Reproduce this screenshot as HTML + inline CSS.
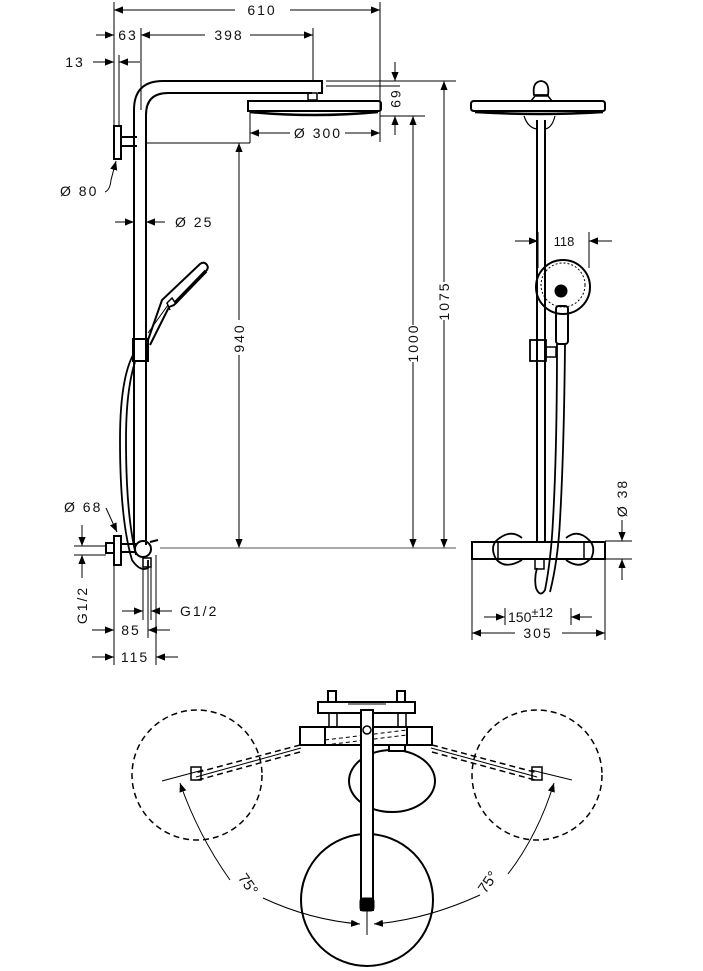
<!DOCTYPE html>
<html><head><meta charset="utf-8"><style>
html,body{margin:0;padding:0;background:#fff}
svg{display:block}
text{font-family:"Liberation Sans",sans-serif;font-size:14px;fill:#111;letter-spacing:2px}
</style></head><body>
<svg width="703" height="971" viewBox="0 0 703 971" xmlns="http://www.w3.org/2000/svg">
<defs>
<marker id="a" viewBox="0 0 10 10" refX="10" refY="5" markerWidth="9" markerHeight="9" orient="auto-start-reverse" markerUnits="userSpaceOnUse"><path d="M0,1 L10,5 L0,9z" fill="#000"/></marker>
</defs>
<g stroke="#000" fill="none" stroke-width="1">
<line x1="114" y1="2" x2="114" y2="130"/>
<line x1="380" y1="2" x2="380" y2="142"/>
<line x1="141" y1="28" x2="141" y2="110"/>
<line x1="313" y1="28" x2="313" y2="80"/>
<line x1="119" y1="55" x2="119" y2="126"/>
<line x1="114" y1="10" x2="235" y2="10" marker-start="url(#a)"/>
<line x1="290" y1="10" x2="380" y2="10" marker-end="url(#a)"/>
<line x1="96" y1="35" x2="114" y2="35" marker-end="url(#a)"/>
<line x1="141" y1="35" x2="205" y2="35" marker-start="url(#a)"/>
<line x1="250" y1="35" x2="313" y2="35" marker-end="url(#a)"/>
<line x1="93" y1="62" x2="114" y2="62" marker-end="url(#a)"/>
<line x1="119" y1="62" x2="140" y2="62" marker-start="url(#a)"/>
<path d="M134 545 V110 Q134 81 163 81 H322 V93 H318" stroke-width="2"/>
<path d="M146 545 V115 Q146 93 168 93 H312" stroke-width="2"/>
<rect x="308" y="93" width="9" height="7" stroke-width="1.5"/>
<path d="M248 101 H378 Q381 101 381 104 V109 Q381 111 378 111 H248 Z" stroke-width="2"/>
<path d="M250 112 Q315 118 378 112" stroke-width="2.5"/>
<rect x="114" y="126" width="7" height="33" stroke-width="2"/>
<path d="M121 137 H137 M121 146 H137" stroke-width="2"/>
<line x1="146" y1="143" x2="250" y2="143"/>
<line x1="250" y1="112" x2="250" y2="143"/>
<line x1="250" y1="133" x2="290" y2="133" marker-start="url(#a)"/>
<line x1="345" y1="133" x2="380" y2="133" marker-end="url(#a)"/>
<line x1="326" y1="81" x2="456" y2="81"/>
<line x1="326" y1="86" x2="400" y2="86"/>
<line x1="380" y1="116" x2="425" y2="116"/>
<line x1="395" y1="62" x2="395" y2="81" marker-end="url(#a)"/>
<line x1="395" y1="135" x2="395" y2="116" marker-end="url(#a)"/>
<line x1="239" y1="143" x2="239" y2="320" marker-start="url(#a)"/>
<line x1="239" y1="355" x2="239" y2="548" marker-end="url(#a)"/>
<line x1="413" y1="116" x2="413" y2="325" marker-start="url(#a)"/>
<line x1="413" y1="362" x2="413" y2="548" marker-end="url(#a)"/>
<line x1="444" y1="81" x2="444" y2="282" marker-start="url(#a)"/>
<line x1="444" y1="320" x2="444" y2="548" marker-end="url(#a)"/>
<line x1="160" y1="548" x2="456" y2="548" stroke="#555"/>
<path d="M105 192 Q110 190 111 180 L116 161" marker-end="url(#a)"/>
<line x1="115" y1="222" x2="134" y2="222" marker-end="url(#a)"/>
<line x1="165" y1="222" x2="146" y2="222" marker-end="url(#a)"/>
<!-- handshower -->
<rect x="133" y="339" width="15" height="22" stroke-width="2"/>
<path d="M148 340 L162 300 L200 264 Q204 261 207 265 Q209 268 206 271 L174 305 L169 307 L150 345" stroke-width="2"/>
<path d="M148 333 L168 305" />
<path d="M170 310 L167 303 L172 298 L176 304" stroke-width="1.5"/>
<path d="M175 303 L206 271" stroke-width="3.5"/>
<path d="M133 355 Q120 380 120 440 Q120 520 132 560 Q140 572 148 568 V560" stroke-width="1.8"/>
<path d="M135 362 Q126 390 126 440 Q126 515 136 555" stroke-width="1.8"/>
<rect x="106" y="543" width="8" height="10" stroke-width="2"/>
<rect x="114" y="536" width="7" height="29" stroke-width="2"/>
<path d="M121 544 H136 M121 552 H136" stroke-width="2"/>
<circle cx="143" cy="549" r="8" stroke-width="2"/>
<rect x="143" y="558" width="8" height="9" stroke-width="1.5"/>
<line x1="150" y1="542" x2="158" y2="540" stroke-width="2"/>
<path d="M106 508 L117 532" marker-end="url(#a)"/>
<line x1="74" y1="546" x2="106" y2="546"/>
<line x1="74" y1="555" x2="106" y2="555"/>
<line x1="82" y1="525" x2="82" y2="546" marker-end="url(#a)"/>
<line x1="82" y1="578" x2="82" y2="555" marker-end="url(#a)"/>
<line x1="114" y1="565" x2="114" y2="665"/>
<line x1="143" y1="567" x2="143" y2="620"/>
<line x1="148" y1="567" x2="148" y2="638"/>
<line x1="151" y1="567" x2="151" y2="620"/>
<line x1="156" y1="555" x2="156" y2="665"/>
<line x1="122" y1="611" x2="143" y2="611" marker-end="url(#a)"/>
<line x1="172" y1="611" x2="151" y2="611" marker-end="url(#a)"/>
<line x1="92" y1="630" x2="114" y2="630" marker-end="url(#a)"/>
<line x1="170" y1="630" x2="148" y2="630" marker-end="url(#a)"/>
<line x1="92" y1="657" x2="114" y2="657" marker-end="url(#a)"/>
<line x1="178" y1="657" x2="156" y2="657" marker-end="url(#a)"/>

<!-- RIGHT VIEW -->
<path d="M534 95 Q532 82 541 81 Q550 82 548 95 Z" stroke-width="1.8"/>
<path d="M531 101 L535 96 H548 L552 101" stroke-width="1.5"/>
<path d="M474 101 H602 Q605 101 605 104 V109 Q605 111 602 111 H474 Q471 111 471 108 V104 Q471 101 474 101Z" stroke-width="2"/>
<path d="M475 112 Q540 116 603 112" stroke-width="2.5"/>
<path d="M524 116 Q528 128 537 129 M555 116 Q552 128 545 129" stroke-width="1.2"/>
<line x1="537" y1="120" x2="537" y2="543" stroke-width="2"/>
<line x1="545" y1="120" x2="545" y2="543" stroke-width="2"/>
<line x1="538" y1="232" x2="538" y2="268"/>
<line x1="589" y1="232" x2="589" y2="268"/>
<line x1="515" y1="241" x2="538" y2="241" marker-end="url(#a)"/>
<line x1="612" y1="241" x2="589" y2="241" marker-end="url(#a)"/>
<circle cx="563" cy="287" r="27" stroke-width="2"/>
<circle cx="563" cy="285" r="22" stroke-width="1" stroke-dasharray="2 2"/>
<circle cx="561" cy="291" r="6" fill="#000"/>
<rect x="556" y="306" width="12" height="38" rx="3" stroke-width="2"/>
<rect x="530" y="340" width="16" height="21" stroke-width="1.8"/>
<rect x="546" y="347" width="10" height="10" stroke-width="1.5"/>
<path d="M557 344 Q557 450 553 520 Q551 560 545 590 Q540 598 536 588 Q534 578 537 568" stroke-width="1.8"/>
<path d="M565 344 Q564 450 560 520 Q558 560 550 592" stroke-width="1.8"/>
<rect x="535" y="559" width="9" height="10" stroke-width="1.5"/>
<rect x="472" y="542" width="133" height="17" stroke-width="2"/>
<path d="M496 559 Q490 548 496 541 Q510 528 522 538 M496 559 Q505 570 522 560" stroke-width="1.8"/>
<path d="M591 559 Q596 548 590 541 Q578 528 566 538 M590 559 Q580 570 566 560" stroke-width="1.8"/>
<rect x="498" y="542" width="86" height="17" stroke-width="1.5"/>
<line x1="605" y1="541" x2="632" y2="541"/>
<line x1="605" y1="559" x2="632" y2="559"/>
<line x1="622" y1="520" x2="622" y2="541" marker-end="url(#a)"/>
<line x1="622" y1="580" x2="622" y2="559" marker-end="url(#a)"/>
<line x1="472" y1="559" x2="472" y2="640"/>
<line x1="605" y1="559" x2="605" y2="640"/>
<line x1="505" y1="608" x2="505" y2="625"/>
<line x1="571" y1="608" x2="571" y2="625"/>
<line x1="484" y1="617" x2="505" y2="617" marker-end="url(#a)"/>
<line x1="592" y1="617" x2="571" y2="617" marker-end="url(#a)"/>
<line x1="472" y1="633" x2="515" y2="633" marker-start="url(#a)"/>
<line x1="562" y1="633" x2="605" y2="633" marker-end="url(#a)"/>

<!-- BOTTOM VIEW -->
<g stroke-width="1.5" stroke-dasharray="6 4">
<circle cx="197" cy="775" r="65"/>
<circle cx="537" cy="775" r="65"/>
<path d="M300 745 L195 773 M300 752 L198 780"/>
<path d="M432 745 L538 773 M432 752 L535 780"/>
</g>
<path d="M301 748 L196 777 M431 748 L537 777" stroke-width="1"/>
<rect x="191" y="767" width="10" height="13" stroke-width="1.5"/>
<rect x="532" y="767" width="10" height="13" stroke-width="1.5"/>
<circle cx="367" cy="900" r="66" stroke-width="2"/>
<ellipse cx="392" cy="781" rx="43" ry="31" stroke-width="2" fill="#fff"/>
<rect x="389" y="733" width="16" height="18" fill="#fff" stroke-width="2"/>
<rect x="300" y="727" width="132" height="18" fill="#fff" stroke-width="2"/>
<rect x="300" y="727" width="25" height="18" stroke-width="2"/>
<rect x="407" y="727" width="25" height="18" stroke-width="2"/>
<path d="M325 740 L407 730 M325 745 L407 735" stroke-width="1" stroke-dasharray="4 3"/>
<rect x="318" y="702" width="97" height="11" fill="#fff" stroke-width="2"/>
<line x1="348" y1="704" x2="386" y2="704"/>
<rect x="328" y="691" width="8" height="11" stroke-width="2"/>
<rect x="397" y="691" width="8" height="11" stroke-width="2"/>
<rect x="329" y="713" width="8" height="14" stroke-width="1.5"/>
<rect x="398" y="713" width="8" height="14" stroke-width="1.5"/>
<rect x="361" y="710" width="12" height="200" fill="#fff" stroke-width="2"/>
<circle cx="367" cy="730" r="4" stroke-width="1.5"/>
<rect x="360" y="898" width="14" height="13" rx="3" fill="#000"/>
<line x1="367" y1="910" x2="367" y2="935"/>
<line x1="162" y1="781" x2="203" y2="770"/>
<line x1="572" y1="780" x2="531" y2="770"/>
<path d="M230 880 Q198 835 180 783" marker-end="url(#a)"/>
<path d="M263 898 Q310 920 360 924" marker-end="url(#a)"/>
<path d="M508 874 Q538 835 554 783" marker-end="url(#a)"/>
<path d="M480 895 Q425 920 374 924" marker-end="url(#a)"/>
</g>
<text x="262" y="15" text-anchor="middle">610</text>
<text x="128" y="40" text-anchor="middle">63</text>
<text x="229" y="40" text-anchor="middle">398</text>
<text x="75" y="67" text-anchor="middle">13</text>
<text x="60" y="196">Ø 80</text>
<text x="175" y="227">Ø 25</text>
<text x="318" y="138" text-anchor="middle">Ø 300</text>
<text transform="translate(391,100) rotate(90)" text-anchor="middle">69</text>
<text transform="translate(244,338) rotate(-90)" text-anchor="middle">940</text>
<text transform="translate(418,343) rotate(-90)" text-anchor="middle">1000</text>
<text transform="translate(449,301) rotate(-90)" text-anchor="middle">1075</text>
<text x="64" y="512">Ø 68</text>
<text transform="translate(87,605) rotate(-90)" text-anchor="middle">G1/2</text>
<text x="180" y="616">G1/2</text>
<text x="131" y="635" text-anchor="middle">85</text>
<text x="135" y="662" text-anchor="middle">115</text>
<text x="564" y="246" text-anchor="middle" style="font-size:13px;letter-spacing:0">118</text>
<text transform="translate(627,498) rotate(-90)" text-anchor="middle">Ø 38</text>
<text x="508" y="622" style="letter-spacing:0">150<tspan dy="-5" font-size="13">±12</tspan></text>
<text x="538" y="638" text-anchor="middle">305</text>
<text transform="translate(244,887) rotate(55)" text-anchor="middle" style="font-size:15px;letter-spacing:0">75°</text>
<text transform="translate(492,885) rotate(-55)" text-anchor="middle" style="font-size:15px;letter-spacing:0">75°</text>
</svg>
</body></html>
